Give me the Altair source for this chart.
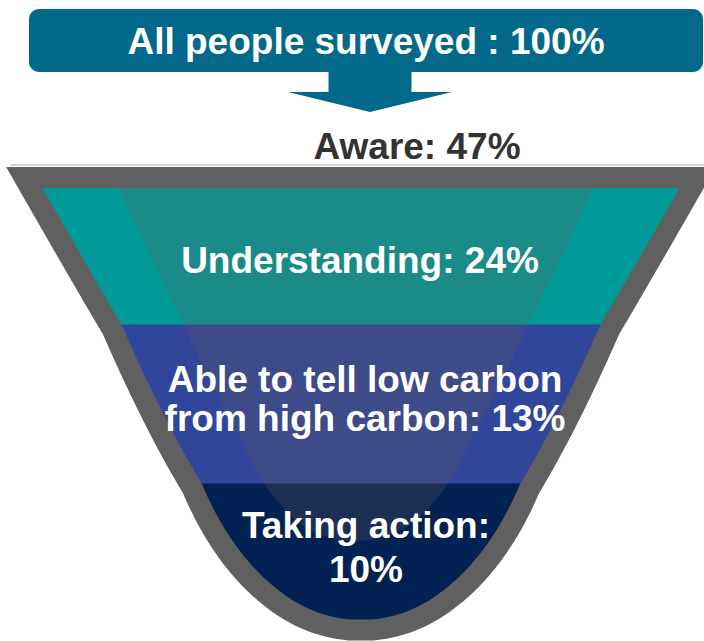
import altair as alt
import numpy as np
import pandas as pd

# ---------------- data ----------------
stages = ["All people surveyed", "Aware", "Understanding",
          "Able to tell low carbon from high carbon", "Taking action"]
percents = [100, 47, 24, 13, 10]
label_lines = [["All people surveyed : 100%"],
               ["Aware: 47%"],
               ["Understanding: 24%"],
               ["Able to tell low carbon", "from high carbon: 13%"],
               ["Taking action:", "10%"]]
band_stages = ["Understanding", "Able to tell low carbon from high carbon", "Taking action"]
band_colors = ["#009A98", "#2F469A", "#012252"]
band_glow_colors = ["#1A8B89", "#3D4B88", "#1C3055"]
label_colors = ["#FFFFFF", "#333333", "#FFFFFF", "#FFFFFF", "#FFFFFF"]

# ---------------- layout ----------------
W, H = 704, 641
label_x = [366, 417, 360, 365, 366]
label_line_y = [[54], [159], [273], [392, 431], [538, 582]]
band_y = [188, 325, 484, 619.5]          # band boundaries (px)
FUNNEL_CX, FUNNEL_BOTTOM = 361, 620
GLOW_CX, GLOW_BOTTOM = 356, 541
# funnel side profile: depth above bottom -> squared half width / depth
IN_D = [0, 30, 80, 136, 295, 432]
IN_G = [250, 228, 208, 186, 194, 235]
GL_D = [0, 7, 34, 57, 101, 216, 353]
GL_G = [195, 195, 157, 148, 129, 137, 160]


def half_width(d, dc, gc):
    d = np.clip(np.asarray(d, float), 0, None)
    return np.sqrt(d * np.interp(d, dc, gc))


def profile(y0, y1, cx, bottom, dc, gc, n=140):
    ys = np.linspace(y0, y1, n)
    w = half_width(bottom - ys, dc, gc)
    return ys, cx - w, cx + w


# funnel outline (gray)
ys, xl, xr = profile(band_y[0], band_y[-1], FUNNEL_CX, FUNNEL_BOTTOM, IN_D, IN_G, 260)
outline_df = pd.DataFrame({"y": ys, "xl": xl, "xr": xr})

# colored bands and translucent glow
band_rows, glow_rows = [], []
for i, st in enumerate(band_stages):
    y0, y1 = band_y[i], band_y[i + 1]
    ys, xl, xr = profile(y0 - (0.5 if i else 0), y1, FUNNEL_CX, FUNNEL_BOTTOM, IN_D, IN_G)
    for a, b, c in zip(ys, xl, xr):
        band_rows.append({"band": st, "y": a, "xl": b, "xr": c, "fill": band_colors[i]})
    g0, g1 = max(y0, band_y[0]), min(y1, GLOW_BOTTOM - 0.5)
    if g0 < g1:
        ys, xl, xr = profile(g0 - (0.5 if i else 0), g1, GLOW_CX, GLOW_BOTTOM, GL_D, GL_G)
        for a, b, c in zip(ys, xl, xr):
            glow_rows.append({"band": st, "y": a, "xl": b, "xr": c, "fill": band_glow_colors[i]})
band_df = pd.DataFrame(band_rows)
glow_df = pd.DataFrame(glow_rows)

text_rows = []
for i, lines in enumerate(label_lines):
    for j, t in enumerate(lines):
        text_rows.append({"stage": stages[i], "pct": percents[i], "text": t,
                          "x": label_x[i], "y": label_line_y[i][j],
                          "color": label_colors[i]})
text_df = pd.DataFrame(text_rows)

xs = alt.Scale(domain=[0, W], nice=False, zero=False)
ysc = alt.Scale(domain=[0, H], nice=False, zero=False, reverse=True)
X = lambda f: alt.X(f, type="quantitative", scale=xs, axis=None)
Y = lambda f: alt.Y(f, type="quantitative", scale=ysc, axis=None)

base_one = pd.DataFrame({"stage": [stages[0]]})

box = alt.Chart(base_one).mark_rect(color="#03698A", cornerRadius=10).encode(
    x=alt.value(29), x2=alt.value(703), y=alt.value(9), y2=alt.value(72))

arrow = alt.Chart(base_one).mark_point(
    shape="M -0.506 -0.26 L 0.506 -0.26 L 0.506 0 L 1 0 L 0 0.244 L -1 0 L -0.506 0 Z",
    filled=True, color="#03698A", opacity=1, size=164 * 164, strokeWidth=0
).encode(x=alt.value(370), y=alt.value(92))

top_line = alt.Chart(base_one).mark_rule(color="#C4C4C4", strokeWidth=1.5).encode(
    x=alt.value(10), x2=alt.value(704), y=alt.value(165))

outline = alt.Chart(outline_df).mark_area(
    orient="horizontal", color="#606060", stroke="#606060",
    strokeWidth=42, strokeJoin="miter", strokeMiterLimit=10, opacity=1
).encode(y=Y("y"), x=X("xl"), x2="xr:Q")

bands = alt.Chart(band_df).mark_area(orient="horizontal", opacity=1).encode(
    y=Y("y"), x=X("xl"), x2="xr:Q",
    color=alt.Color("fill:N", scale=None), detail="band:N")

glow = alt.Chart(glow_df).mark_area(orient="horizontal", opacity=1).encode(
    y=Y("y"), x=X("xl"), x2="xr:Q",
    color=alt.Color("fill:N", scale=None), detail="band:N")

labels = alt.Chart(text_df).mark_text(
    font="Liberation Sans", fontWeight="bold", fontSize=37,
    align="center", baseline="alphabetic"
).encode(x=X("x"), y=Y("y"), text="text:N",
         color=alt.Color("color:N", scale=None))

chart = alt.layer(top_line, outline, bands, glow, box, arrow, labels).properties(
    width=W, height=H, padding=0, autosize=alt.AutoSizeParams(type="none"),
    background="white"
).configure_view(stroke=None)

chart.save("out.html", embed_options={"renderer": "svg", "actions": False})
